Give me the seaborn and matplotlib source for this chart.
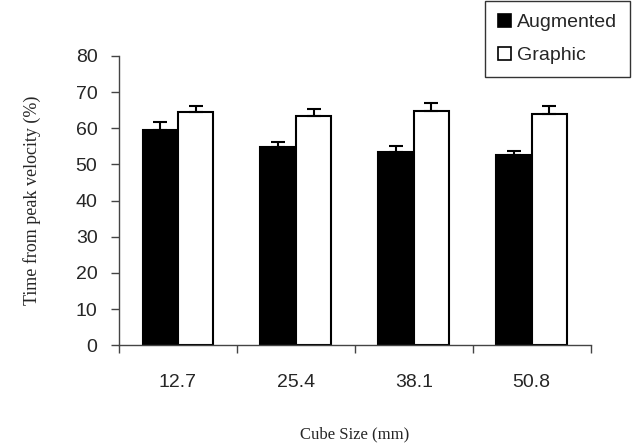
import numpy as np
import pandas as pd
import matplotlib
matplotlib.use("Agg")
import matplotlib.pyplot as plt
import seaborn as sns

# Data
sizes = ["12.7", "25.4", "38.1", "50.8"]
augmented = [59.5, 54.9, 53.4, 52.5]
augmented_err = [2.2, 1.2, 1.7, 1.3]
graphic = [64.4, 63.4, 64.8, 63.9]
graphic_err = [1.8, 1.9, 2.3, 2.3]
conditions = ["Augmented", "Graphic"]

df = pd.DataFrame({
    "size": sizes * 2,
    "cond": ["Augmented"] * 4 + ["Graphic"] * 4,
    "time": augmented + graphic,
    "err": augmented_err + graphic_err,
})

sns.set_style("white")
plt.rcParams["font.family"] = ["Liberation Sans", "DejaVu Sans"]

fig = plt.figure(figsize=(6.33, 4.46), dpi=100)
ax = fig.add_axes([0.188, 0.2258, 0.745, 0.649])

sns.barplot(data=df, x="size", y="time", hue="cond", hue_order=conditions,
            palette=["black", "white"], edgecolor="black", linewidth=1.5,
            width=0.6, errorbar=None, legend=False, ax=ax)

# one-sided error bars on top of each bar
for cont, cond in zip(ax.containers, conditions):
    sub = df[df["cond"] == cond]
    xs = [p.get_x() + p.get_width() / 2 for p in cont.patches]
    ys = sub["time"].values
    errs = sub["err"].values
    ax.errorbar(xs, ys, yerr=[np.zeros(len(errs)), errs], fmt="none",
                ecolor="black", elinewidth=1.5, capsize=5, capthick=1.5)

ax.set_ylim(0, 80)
ax.set_xlim(-0.5, 3.5)
ax.set_yticks(np.arange(0, 81, 10))
ax.set_xticks(range(4))
ax.set_xticklabels(sizes)
ax.set_xticks(np.arange(-0.5, 4, 1), minor=True)
ax.tick_params(axis="x", which="major", length=0, pad=21, labelsize=14)
ax.tick_params(axis="x", which="minor", length=5.5, width=1, color="#444444", bottom=True)
ax.tick_params(axis="y", length=5.5, width=1, color="#444444", left=True, labelsize=14, pad=10)

for s in ["top", "right"]:
    ax.spines[s].set_visible(False)
for s in ["left", "bottom"]:
    ax.spines[s].set_color("#444444")
    ax.spines[s].set_linewidth(1)

ax.set_xlabel("Cube Size (mm)", family="Liberation Serif", fontsize=12, labelpad=25)
ax.set_ylabel("Time from peak velocity (%)", family="Liberation Serif", fontsize=13, labelpad=25)

handles = [plt.Rectangle((0, 0), 1, 1, facecolor=c, edgecolor="black", linewidth=1.2)
           for c in ["black", "white"]]
leg = fig.legend(handles, conditions, loc="upper right", bbox_to_anchor=(0.995, 0.998),
                 borderaxespad=0, frameon=True, fancybox=False, fontsize=14,
                 handlelength=0.7, handleheight=0.7, handletextpad=0.3,
                 labelspacing=0.8, borderpad=0.65)
leg.get_frame().set_edgecolor("black")
leg.get_frame().set_linewidth(1)

fig.savefig("out.png", dpi=100)
